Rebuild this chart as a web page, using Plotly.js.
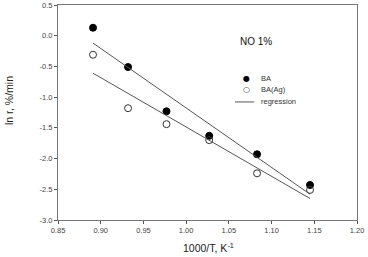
<!DOCTYPE html>
<html><head><meta charset="utf-8">
<script src="https://cdn.plot.ly/plotly-3.0.1.min.js"></script>
<style>html,body{margin:0;padding:0;background:#fff}#c{width:368px;height:257px}</style>
</head><body><div id="c"></div>
<script>
const invT = [0.891, 0.932, 0.977, 1.027, 1.083, 1.145];
const lnrBA = [0.13, -0.51, -1.23, -1.63, -1.93, -2.43];
const lnrBAAg = [-0.31, -1.18, -1.44, -1.70, -2.24, -2.51];
const regX = [0.891, 1.145];
const regBA = [-0.12, -2.58];
const regBAAg = [-0.61, -2.65];
const xTicks = [0.85, 0.90, 0.95, 1.00, 1.05, 1.10, 1.15, 1.20];
const yTicks = [0.5, 0.0, -0.5, -1.0, -1.5, -2.0, -2.5, -3.0];
const legendLabels = ['BA', 'BA(Ag)', 'regression'];

const F = 'Liberation Sans, Arial, sans-serif';
const traces = [
  {x: invT, y: lnrBA, type: 'scatter', mode: 'markers', name: 'BA',
   marker: {symbol: 'circle', size: 7, color: '#000', line: {color: '#000', width: 1}}},
  {x: invT, y: lnrBAAg, type: 'scatter', mode: 'markers', name: 'BA(Ag)',
   marker: {symbol: 'circle-open', size: 7, color: '#333', line: {width: 1}}},
  {x: regX, y: regBA, type: 'scatter', mode: 'lines', name: 'regression',
   line: {color: '#555', width: 1}},
  {x: regX, y: regBAAg, type: 'scatter', mode: 'lines', name: 'regression',
   line: {color: '#555', width: 1}}
];
const axBase = {
  showgrid: false, zeroline: false, ticks: 'outside', ticklen: 3, tickwidth: 1,
  tickcolor: '#555', linecolor: '#777', linewidth: 1, showline: true, mirror: true,
  tickfont: {family: F, size: 7.5, color: '#444'}
};
const lgY = [0.660, 0.605, 0.549];
const annotations = [
  {text: 'NO 1%', x: 0.662, y: 0.828, xanchor: 'center', font: {family: F, size: 10, color: '#111'}},
  {text: 'ln r, %/min', x: -0.164, y: 0.558, textangle: -90, font: {family: F, size: 10.5, color: '#222'}},
  {text: '1000/T, K<sup>-1</sup>', x: 0.505, y: -0.167, yanchor: 'bottom', font: {family: F, size: 10.5, color: '#222'}},
  {text: '●', x: 0.629, y: lgY[0], font: {family: 'DejaVu Sans', size: 8, color: '#000'}},
  {text: '○', x: 0.629, y: lgY[1], font: {family: 'DejaVu Sans', size: 8, color: '#333'}}
].concat(legendLabels.map((t, i) => ({text: t, x: 0.672, y: lgY[i], xanchor: 'left',
  font: {family: F, size: 7.5, color: '#333'}})))
 .map(a => Object.assign({xref: 'paper', yref: 'paper', showarrow: false, yanchor: a.yanchor || 'middle', xanchor: a.xanchor || 'center'}, a));

const layout = {
  width: 368, height: 257,
  margin: {l: 58, r: 11, t: 5, b: 37},
  paper_bgcolor: '#fff', plot_bgcolor: '#fff',
  font: {family: F, color: '#222'},
  xaxis: Object.assign({}, axBase, {range: [0.85, 1.20], tickvals: xTicks,
    ticktext: xTicks.map(v => v.toFixed(2))}),
  yaxis: Object.assign({}, axBase, {range: [-3.0, 0.5], tickvals: yTicks,
    ticktext: yTicks.map(v => v.toFixed(1))}),
  showlegend: false,
  annotations: annotations,
  shapes: [{type: 'line', xref: 'paper', yref: 'paper', x0: 0.592, x1: 0.656, y0: lgY[2], y1: lgY[2],
    line: {color: '#555', width: 1}}]
};
Plotly.newPlot('c', traces, layout, {displayModeBar: false, staticPlot: true});
</script></body></html>
